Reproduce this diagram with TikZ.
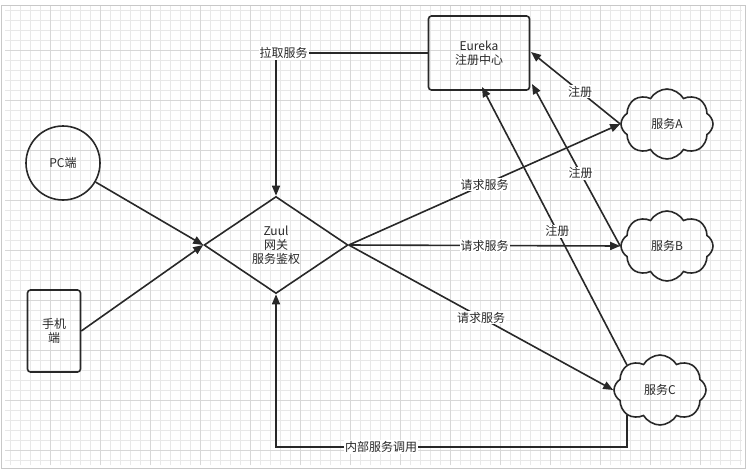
\documentclass[tikz,border=0pt]{standalone}
\usepackage{fontspec}
\setmainfont{Noto Sans CJK SC}
\usetikzlibrary{shapes.geometric,shapes.symbols,arrows.meta}
\begin{document}
\begin{tikzpicture}[x=1pt,y=-1pt,
  line width=1.6pt, draw={rgb,255:red,40;green,40;blue,40},
  every node/.style={font=\fontsize{12}{14}\selectfont, text={rgb,255:red,40;green,40;blue,40}},
  arr/.style={-{Triangle[length=10pt,width=8pt]}},
  lbl/.style={fill=white, inner sep=1pt},
  cld/.style={cloud, cloud puffs=8, cloud puff arc=120, aspect=1.4, draw, minimum width=92pt, minimum height=70pt, inner sep=0pt}]
\useasboundingbox (0,0) rectangle (752,472);
\fill[white] (0,0) rectangle (752,472);
\draw[line width=0.3pt, draw={rgb,255:red,232;green,232;blue,232}] (5,5) grid[step=10pt] (742,465);
\draw[line width=0.6pt, draw={rgb,255:red,215;green,215;blue,215}] (5,5) grid[step=50pt] (742,465);
\draw[line width=0.8pt, draw={rgb,255:red,200;green,200;blue,200}] (1,5) rectangle (745,468);

\node[draw, rounded corners=3pt, minimum width=101pt, minimum height=74pt, align=center] (eu) at (479,53) {Eureka\\注册中心};
\node[draw, circle, minimum size=74pt, inner sep=0pt] (pc) at (63,163) {PC端};
\node[draw, rounded corners=3pt, minimum width=53pt, minimum height=82pt, align=center] (ph) at (54,331) {手机\\端};
\node[draw, diamond, minimum width=144pt, minimum height=97pt, inner sep=0pt, align=center, aspect=1.5] (zu) at (276,245) {Zuul\\网关\\服务鉴权};
\node[cld] (a) at (667,124) {服务A};
\node[cld] (b) at (667,246) {服务B};
\node[cld] (c) at (660,390) {服务C};

\draw[arr] (eu.west) -- (276,53) node[lbl, pos=0.95]{拉取服务} -- (zu.north);
\draw[arr] (pc) -- (zu.west);
\draw[arr] (ph.east) -- (zu.west);
\draw[arr] (zu.east) -- (a.west) node[lbl, pos=0.5]{请求服务};
\draw[arr] (zu.east) -- (b.west) node[lbl, pos=0.5]{请求服务};
\draw[arr] (zu.east) -- (c.west) node[lbl, pos=0.5]{请求服务};
\draw[arr] (a.west) -- (531,52) node[lbl, pos=0.45]{注册};
\draw[arr] (b.west) -- (532,84) node[lbl, pos=0.45]{注册};
\draw[arr] (c.north west) -- (482,87) node[lbl, pos=0.48]{注册};
\draw[arr] (c.south west) -- (c.south west |- 0,447) -- node[lbl, pos=0.7]{内部服务调用} (276,447) -- (zu.south);
\end{tikzpicture}
\end{document}
